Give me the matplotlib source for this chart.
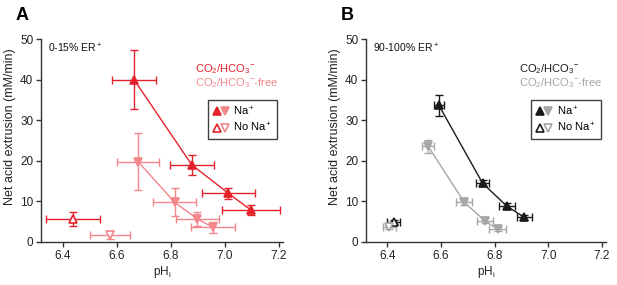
import matplotlib
matplotlib.use('Agg')
import matplotlib.pyplot as plt
from matplotlib.legend_handler import HandlerTuple

plt.rcParams['font.family'] = ['Liberation Sans', 'DejaVu Sans']
plt.rcParams['mathtext.fontset'] = 'custom'
plt.rcParams['mathtext.rm'] = 'Liberation Sans'
plt.rcParams['mathtext.it'] = 'Liberation Sans:italic'

# panel A (0-15% ER+)
a_na_x = [6.664, 6.878, 7.013, 7.096]
a_na_y = [40.0, 19.0, 12.0, 7.9]
a_na_xerr = [0.083, 0.081, 0.097, 0.108]
a_na_yerr = [7.3, 2.4, 1.4, 1.2]
a_nona_x = [6.44]
a_nona_y = [5.7]
a_nona_xerr = [0.10]
a_nona_yerr = [1.7]
a_free_x = [6.679, 6.814, 6.898, 6.956]
a_free_y = [19.8, 9.8, 5.7, 3.6]
a_free_xerr = [0.077, 0.08, 0.08, 0.08]
a_free_yerr = [7.1, 3.5, 1.7, 1.3]
a_free_nona_x = [6.575]
a_free_nona_y = [1.7]
a_free_nona_xerr = [0.075]
a_free_nona_yerr = [1.0]

# panel B (90-100% ER+)
b_na_x = [6.592, 6.755, 6.845, 6.910]
b_na_y = [33.7, 14.5, 8.85, 6.1]
b_na_xerr = [0.019, 0.025, 0.03, 0.028]
b_na_yerr = [2.6, 0.8, 0.8, 0.6]
b_nona_x = [6.423]
b_nona_y = [4.9]
b_nona_xerr = [0.026]
b_nona_yerr = [0.5]
b_free_x = [6.552, 6.687, 6.764, 6.811]
b_free_y = [23.6, 9.76, 5.2, 3.15]
b_free_xerr = [0.021, 0.03, 0.03, 0.032]
b_free_yerr = [1.6, 0.7, 0.6, 0.5]
b_free_nona_x = [6.408]
b_free_nona_y = [3.65]
b_free_nona_xerr = [0.025]
b_free_nona_yerr = [0.5]

xticks = [6.4, 6.6, 6.8, 7.0, 7.2]
yticks = [0, 10, 20, 30, 40, 50]

RED = '#e3222b'
PINK = '#f2868b'
BLACK = '#1a1a1a'
GRAY = '#a6a6a6'


def series(ax, x, y, xerr, yerr, col, marker, filled, line):
    ax.errorbar(x, y, xerr=xerr, yerr=yerr, fmt='none', ecolor=col,
                elinewidth=1.0, capsize=2.8, capthick=1.0, zorder=2)
    if line:
        ax.plot(x, y, '-', color=col, lw=1.0, zorder=3)
    h, = ax.plot(x, y, linestyle='none', marker=marker, ms=6.2,
                 mfc=col if filled else 'white', mec=col, mew=1.2, zorder=4)
    return h


def panel(ax, letter, title, c1, c2, na, nona, free, free_nona):
    h1 = series(ax, *na, c1, '^', True, True)
    h2 = series(ax, *nona, c1, '^', False, False)
    h3 = series(ax, *free, c2, 'v', True, True)
    h4 = series(ax, *free_nona, c2, 'v', False, False)
    ax.set_xlim(6.32, 7.215)
    ax.set_ylim(0, 50)
    ax.set_xticks(xticks)
    ax.set_xticklabels(['%.1f' % t for t in xticks])
    ax.set_yticks(yticks)
    for s in ['top', 'right']:
        ax.spines[s].set_visible(False)
    for s in ['left', 'bottom']:
        ax.spines[s].set_linewidth(1.0)
        ax.spines[s].set_color('#333333')
    ax.tick_params(length=3.5, width=1.0, color='#333333', labelsize=8.5,
                   labelcolor='#222222', pad=2)
    ax.set_xlabel('pH$_\\mathregular{i}$', fontsize=8.5, labelpad=2, color='#222222')
    ax.set_ylabel('Net acid extrusion (mM/min)', fontsize=9, color='#222222')
    ax.yaxis.set_label_coords(-0.103, 0.57)
    ax.text(0.03, 0.985, title, transform=ax.transAxes, fontsize=7.5,
            va='top', ha='left', color='#111111')
    ax.text(0.638, 0.85, 'CO$_2$/HCO$_3$$^{-}$', transform=ax.transAxes,
            fontsize=8, va='center', ha='left', color=c1)
    ax.text(0.638, 0.785, 'CO$_2$/HCO$_3$$^{-}$-free', transform=ax.transAxes,
            fontsize=8, va='center', ha='left', color=c2)
    leg = ax.legend([(h1, h3), (h2, h4)], ['Na$^+$', 'No Na$^+$'],
                    handler_map={tuple: HandlerTuple(ndivide=None, pad=0.0)},
                    loc='upper left', bbox_to_anchor=(0.69, 0.70),
                    frameon=True, fancybox=False, edgecolor='#111111',
                    fontsize=8, handlelength=1.5, handletextpad=0.4,
                    borderpad=0.4, labelspacing=0.3, borderaxespad=0)
    leg.get_frame().set_linewidth(1.0)
    ax.figure.text(ax.get_position().x0 - 0.041, 0.975, letter,
                   fontsize=13, fontweight='bold', va='top', ha='left')


fig = plt.figure(figsize=(6.17, 2.85), dpi=100)
axA = fig.add_axes([0.0665, 0.151, 0.392, 0.712])
axB = fig.add_axes([0.593, 0.151, 0.389, 0.712])

panel(axA, 'A', '0-15% ER$^+$', RED, PINK,
      (a_na_x, a_na_y, a_na_xerr, a_na_yerr),
      (a_nona_x, a_nona_y, a_nona_xerr, a_nona_yerr),
      (a_free_x, a_free_y, a_free_xerr, a_free_yerr),
      (a_free_nona_x, a_free_nona_y, a_free_nona_xerr, a_free_nona_yerr))
panel(axB, 'B', '90-100% ER$^+$', BLACK, GRAY,
      (b_na_x, b_na_y, b_na_xerr, b_na_yerr),
      (b_nona_x, b_nona_y, b_nona_xerr, b_nona_yerr),
      (b_free_x, b_free_y, b_free_xerr, b_free_yerr),
      (b_free_nona_x, b_free_nona_y, b_free_nona_xerr, b_free_nona_yerr))

fig.savefig('out.png', dpi=100)
